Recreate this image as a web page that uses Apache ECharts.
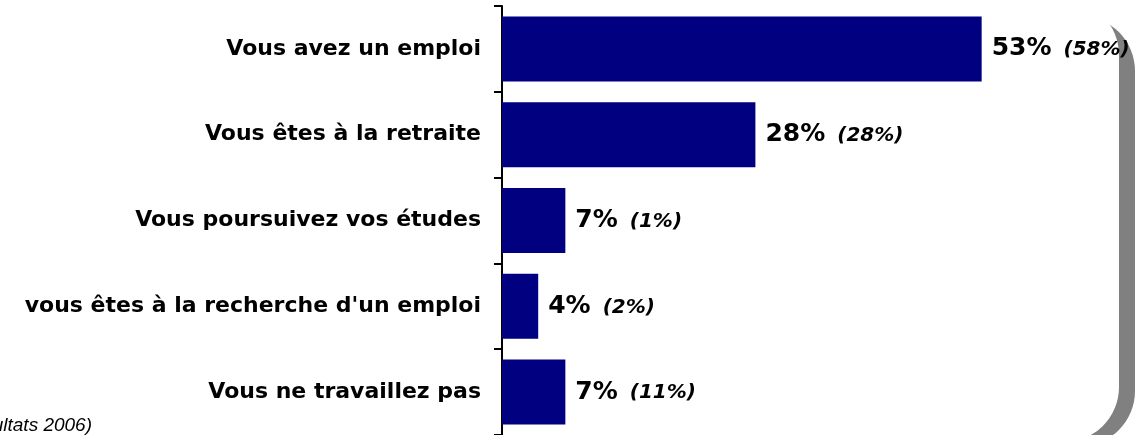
<!DOCTYPE html>
<html>
<head>
<meta charset="utf-8">
<script src="https://cdn.jsdelivr.net/npm/echarts@6/dist/echarts.min.js"></script>
<style>
  html, body { margin: 0; padding: 0; background: #fff; }
  #main { width: 1142px; height: 435px; }
</style>
</head>
<body>
<div id="main"></div>
<script>
// situation professionnelle
var categories = [
  'Vous avez un emploi',
  'Vous êtes à la retraite',
  'Vous poursuivez vos études',
  "vous êtes à la recherche d'un emploi",
  'Vous ne travaillez pas'
];
var values = [53, 28, 7, 4, 7];
// rappel (entre parenthèses)
var previous = [58, 28, 1, 2, 11];
var note = '(Rappel résultats 2006)';

var myChart = echarts.init(document.getElementById('main'));

var option = {
  backgroundColor: '#fff',
  animation: false,
  grid: {
    left: 502,
    right: 6.5,
    top: 6,
    bottom: -4.5
  },
  xAxis: {
    type: 'value',
    min: 0,
    max: 70,
    show: false
  },
  yAxis: {
    type: 'category',
    data: categories,
    inverse: true,
    axisLine: { show: true, lineStyle: { color: '#000', width: 2 } },
    axisTick: { show: true, length: 8, lineStyle: { color: '#000', width: 2 } },
    axisLabel: {
      margin: 21,
      color: '#000',
      fontFamily: 'DejaVu Sans',
      fontWeight: 'bold',
      fontSize: 22
    },
    splitLine: { show: false }
  },
  graphic: [
    // ombre du cadre arrondi
    {
      type: 'rect', z: -20, silent: true,
      shape: { x: -200, y: 16, width: 1335, height: 430, r: 55 },
      style: { fill: '#808080' }
    },
    {
      type: 'rect', z: -19, silent: true,
      shape: { x: -200, y: 0, width: 1319, height: 442, r: 55 },
      style: { fill: '#fff' }
    },
    {
      type: 'text', z: 5, silent: true,
      right: 1050, top: 416,
      style: {
        text: note,
        fill: '#000',
        font: 'italic 19px "Liberation Sans", Arial, sans-serif',
        align: 'right'
      }
    }
  ],
  series: [{
    type: 'bar',
    data: values,
    barWidth: 65,
    itemStyle: { color: '#000080' },
    label: {
      show: true,
      position: 'right',
      distance: 10,
      formatter: function (p) {
        return '{a|' + p.value + '%}{b|(' + previous[p.dataIndex] + '%)}';
      },
      rich: {
        a: {
          fontFamily: 'DejaVu Sans',
          fontWeight: 'bold',
          fontSize: 25,
          color: '#000'
        },
        b: {
          fontFamily: 'DejaVu Sans',
          fontWeight: 'bold',
          fontStyle: 'italic',
          fontSize: 20,
          color: '#000',
          padding: [2, 0, 0, 12]
        }
      }
    }
  }]
};

myChart.setOption(option);
</script>
</body>
</html>
